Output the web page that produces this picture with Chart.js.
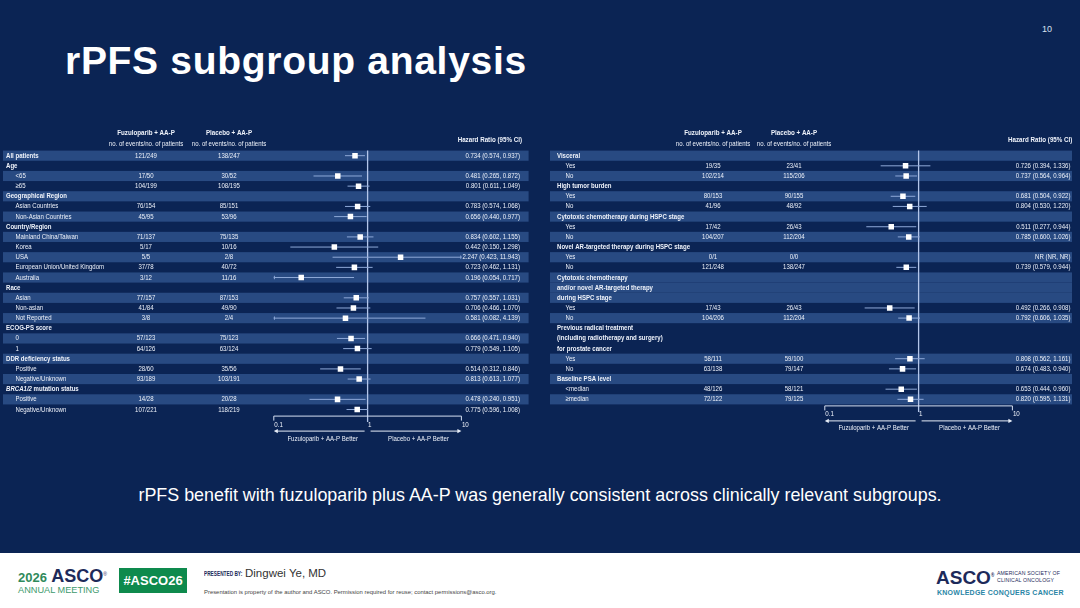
<!DOCTYPE html>
<html>
<head>
<meta charset="utf-8">
<script src="https://cdn.jsdelivr.net/npm/chart.js@4.4.1/dist/chart.umd.min.js"></script>
<style>
  html, body { margin:0; padding:0; }
  body { width:1080px; height:608px; background:#ffffff; position:relative; overflow:hidden; font-family:"Liberation Sans", Arial, sans-serif; }
  #slide { position:absolute; left:0; top:0; width:1080px; height:553px; background:#0b2454; }
  .abs { position:absolute; white-space:nowrap; }
  #title { left:65px; top:41px; font-size:39px; font-weight:bold; color:#ffffff; line-height:39px; letter-spacing:0.7px; }
  #pageno { left:1042px; top:23px; font-size:9px; color:#d8e0f0; line-height:12px; }
  #subtitle { left:0; width:1080px; text-align:center; top:484px; font-size:17.9px; color:#ffffff; line-height:22px; }
  canvas { position:absolute; top:0; }
</style>
</head>
<body>
<div id="slide"></div>
<div id="title" class="abs">rPFS subgroup analysis</div>
<div id="pageno" class="abs">10</div>
<canvas id="leftChart" width="540" height="460" style="left:0;width:540px;height:460px;"></canvas>
<canvas id="rightChart" width="540" height="460" style="left:540px;width:540px;height:460px;"></canvas>
<div id="subtitle" class="abs">rPFS benefit with fuzuloparib plus AA-P was generally consistent across clinically relevant subgroups.</div>

<!-- footer -->
<div class="abs" style="left:18px;top:565px;line-height:18px;"><span style="font-size:13px;color:#2f8a5b;font-weight:bold;">2026</span><span style="font-size:18px;color:#1d2a5a;font-weight:bold;"> ASCO</span><sup style="font-size:5px;color:#1d2a5a;">®</sup></div>
<div class="abs" style="left:18px;top:585px;font-size:9.2px;color:#3d9a6c;line-height:11px;">ANNUAL MEETING</div>
<div class="abs" style="left:119px;top:568px;width:68px;height:25px;background:#0e8a4d;color:#ffffff;font-weight:bold;font-size:13px;line-height:25px;text-align:center;">#ASCO26</div>
<div class="abs" style="left:204px;top:570px;font-size:7px;font-weight:bold;color:#1d2a5a;line-height:8px;transform:scale(0.68,1);transform-origin:0 50%;">PRESENTED BY:</div>
<div class="abs" style="left:245px;top:566px;font-size:11.5px;color:#333333;line-height:14px;">Dingwei Ye, MD</div>
<div class="abs" style="left:204px;top:588px;font-size:5.9px;color:#444444;line-height:8px;">Presentation is property of the author and ASCO. Permission required for reuse; contact permissions@asco.org.</div>
<div class="abs" style="left:936px;top:565px;font-size:19px;font-weight:bold;color:#1d2a5a;line-height:21px;">ASCO<sup style="font-size:4.5px;">®</sup></div>
<div class="abs" style="left:997px;top:570px;font-size:5.2px;color:#1d2a5a;line-height:6.5px;letter-spacing:0.15px;">AMERICAN SOCIETY OF<br>CLINICAL ONCOLOGY</div>
<div class="abs" style="left:937px;top:588px;font-size:7px;font-weight:bold;color:#2a86a6;line-height:9px;letter-spacing:0.25px;">KNOWLEDGE CONQUERS CANCER</div>

<script>
// ---------------- DATA ----------------
const tickValues = [0.1, 1, 10];
const tickLabels = ['0.1', '1', '10'];
const betterLabels = ['Fuzuloparib + AA-P Better', 'Placebo + AA-P Better'];
const colHeaders = ['Fuzuloparib + AA-P', 'Placebo + AA-P'];
const colSubHeader = 'no. of events/no. of patients';
const hrHeader = 'Hazard Ratio (95% CI)';

const leftLabels = ['All patients','Age','<65','≥65','Geographical Region','Asian Countries','Non-Asian Countries','Country/Region','Mainland China/Taiwan','Korea','USA','European Union/United Kingdom','Australia','Race','Asian','Non-asian','Not Reported','ECOG-PS score','0','1','DDR deficiency status','Positive','Negative/Unknown','BRCA1/2 mutation status','Positive','Negative/Unknown'];
const leftKinds  = ['t','h','s','s','h','s','s','h','s','s','s','s','s','h','s','s','s','h','s','s','h','s','s','h','s','s'];
const leftFuz = ['121/249',null,'17/50','104/199',null,'76/154','45/95',null,'71/137','5/17','5/5','37/78','3/12',null,'77/157','41/84','3/8',null,'57/123','64/126',null,'28/60','93/189',null,'14/28','107/221'];
const leftPlc = ['138/247',null,'30/52','108/195',null,'85/151','53/96',null,'75/135','10/16','2/8','40/72','11/16',null,'87/153','49/90','2/4',null,'75/123','63/124',null,'35/56','103/191',null,'20/28','118/219'];
const leftHR  = [0.734,null,0.481,0.801,null,0.783,0.656,null,0.834,0.442,2.247,0.723,0.196,null,0.757,0.706,0.581,null,0.666,0.779,null,0.514,0.813,null,0.478,0.775];
const leftLo  = [0.574,null,0.265,0.611,null,0.574,0.440,null,0.602,0.150,0.423,0.462,0.054,null,0.557,0.466,0.082,null,0.471,0.549,null,0.312,0.613,null,0.240,0.596];
const leftHi  = [0.937,null,0.872,1.049,null,1.068,0.977,null,1.155,1.298,11.943,1.131,0.717,null,1.031,1.070,4.139,null,0.940,1.105,null,0.846,1.077,null,0.951,1.008];

const rightLabels = ['Visceral','Yes','No','High tumor burden','Yes','No','Cytotoxic chemotherapy during HSPC stage','Yes','No','Novel AR-targeted therapy during HSPC stage','Yes','No','Cytotoxic chemotherapy','and/or novel AR-targeted therapy','during HSPC stage','Yes','No','Previous radical treatment','(including radiotherapy and surgery)','for prostate cancer','Yes','No','Baseline PSA level','<median','≥median'];
const rightKinds  = ['h','s','s','h','s','s','h','s','s','h','s','s','h','c','c','s','s','h','c','c','s','s','h','s','s'];
const rightFuz = [null,'19/35','102/214',null,'80/153','41/96',null,'17/42','104/207',null,'0/1','121/248',null,null,null,'17/43','104/206',null,null,null,'58/111','63/138',null,'48/126','72/122'];
const rightPlc = [null,'23/41','115/206',null,'90/155','48/92',null,'26/43','112/204',null,'0/0','138/247',null,null,null,'26/43','112/204',null,null,null,'59/100','79/147',null,'58/121','79/125'];
const rightHR  = [null,0.726,0.737,null,0.681,0.804,null,0.511,0.785,null,null,0.739,null,null,null,0.492,0.792,null,null,null,0.808,0.674,null,0.653,0.820];
const rightLo  = [null,0.394,0.564,null,0.504,0.530,null,0.277,0.600,null,null,0.579,null,null,null,0.266,0.606,null,null,null,0.562,0.483,null,0.444,0.595];
const rightHi  = [null,1.336,0.964,null,0.922,1.220,null,0.944,1.026,null,null,0.944,null,null,null,0.908,1.035,null,null,null,1.161,0.940,null,0.960,1.131];

// ---------------- RENDERING ----------------
const FONT = '"Liberation Sans", Arial, sans-serif';
const NARROW = 0.82;
const TEXT = '#eef2fa';

function txt(ctx, s, x, y, o) {
  o = o || {};
  ctx.save();
  ctx.font = (o.italic ? 'italic ' : '') + (o.bold ? 'bold ' : '') + (o.size || 7.4) + 'px ' + FONT;
  ctx.textAlign = o.align || 'left';
  ctx.textBaseline = 'middle';
  ctx.fillStyle = o.color || TEXT;
  ctx.translate(x, y);
  ctx.scale(NARROW, 1);
  ctx.fillText(s, 0, 0);
  const w = ctx.measureText(s).width * NARROW;
  ctx.restore();
  return w;
}

function fmt(v) { return v.toFixed(3); }

function buildChart(id, d, L) {
  const n = d.labels.length;
  const xmin = tickValues[0], xmax = tickValues[tickValues.length - 1];
  const ciData = [];
  const ptData = [];
  const truncData = [];
  for (let i = 0; i < n; i++) {
    if (d.hr[i] == null) continue;
    ciData.push({x: d.lo[i], y: i}, {x: d.hi[i], y: i}, {x: d.hi[i], y: null});
    ptData.push({x: d.hr[i], y: i});
    if (d.lo[i] < xmin) truncData.push({x: xmin, y: i, dir: -90});
    if (d.hi[i] > xmax) truncData.push({x: xmax, y: i, dir: 90});
  }

  const forestPlugin = {
    id: 'forest_' + id,
    beforeDatasetsDraw(chart) {
      const ctx = chart.ctx;
      const ys = chart.scales.y, xs = chart.scales.x, ca = chart.chartArea;
      // bands
      let g = -1;
      for (let i = 0; i < n; i++) {
        if (d.kinds[i] !== 'c') g++;
        if (g % 2 === 0) {
          const t = ys.getPixelForValue(i - 0.5), b = ys.getPixelForValue(i + 0.5);
          ctx.fillStyle = '#284a82';
          ctx.fillRect(L.bandL, t, L.bandR - L.bandL, b - t);
        }
      }
      // column headers
      txt(ctx, colHeaders[0], L.fuzX, 133.3, {bold: true, align: 'center', size: 7.6});
      txt(ctx, colHeaders[1], L.plcX, 133.3, {bold: true, align: 'center', size: 7.6});
      txt(ctx, colSubHeader, L.fuzX, 144.4, {align: 'center', size: 7.4});
      txt(ctx, colSubHeader, L.plcX, 144.4, {align: 'center', size: 7.4});
      txt(ctx, hrHeader, L.hrR + 2, 139.7, {bold: true, align: 'right', size: 7.6});
      // rows
      for (let i = 0; i < n; i++) {
        const y = ys.getPixelForValue(i);
        const k = d.kinds[i];
        const lab = d.labels[i];
        if (k === 's') {
          txt(ctx, lab, L.subX, y);
        } else {
          if (lab.indexOf('BRCA1/2') === 0) {
            const w = txt(ctx, 'BRCA1/2', L.headX, y, {bold: true, italic: true});
            txt(ctx, lab.slice(7), L.headX + w, y, {bold: true});
          } else {
            txt(ctx, lab, L.headX, y, {bold: true});
          }
        }
        if (d.fuz[i] != null) {
          txt(ctx, d.fuz[i], L.fuzX, y, {align: 'center'});
          txt(ctx, d.plc[i], L.plcX, y, {align: 'center'});
          const s = d.hr[i] == null ? 'NR (NR, NR)' : fmt(d.hr[i]) + ' (' + fmt(d.lo[i]) + ', ' + fmt(d.hi[i]) + ')';
          txt(ctx, s, L.hrR, y, {align: 'right'});
        }
      }
      // reference line at HR = 1
      const x1 = xs.getPixelForValue(1);
      const by = ca.bottom + 1.5;
      ctx.save();
      ctx.strokeStyle = '#b4c6ea';
      ctx.lineWidth = 1.3;
      ctx.beginPath(); ctx.moveTo(x1, ca.top); ctx.lineTo(x1, by + 6); ctx.stroke();
      // axis bracket
      ctx.strokeStyle = '#d6e0f2';
      ctx.lineWidth = 1;
      const xa = xs.getPixelForValue(xmin), xb = xs.getPixelForValue(xmax);
      ctx.beginPath();
      ctx.moveTo(xa, by + 4.5); ctx.lineTo(xa, by); ctx.lineTo(xb, by); ctx.lineTo(xb, by + 4.5);
      ctx.stroke();
      // tick labels
      for (let t = 0; t < tickValues.length; t++) {
        txt(ctx, tickLabels[t], xs.getPixelForValue(tickValues[t]) + 0.5, by + 8.5, {size: 7.6});
      }
      // arrows
      const ay = by + 15;
      ctx.strokeStyle = '#e8eef8'; ctx.fillStyle = '#e8eef8'; ctx.lineWidth = 1;
      ctx.beginPath(); ctx.moveTo(x1 - 3, ay); ctx.lineTo(xa + 3, ay); ctx.stroke();
      ctx.beginPath(); ctx.moveTo(xa, ay); ctx.lineTo(xa + 4, ay - 2.2); ctx.lineTo(xa + 4, ay + 2.2); ctx.closePath(); ctx.fill();
      ctx.beginPath(); ctx.moveTo(x1 + 3, ay); ctx.lineTo(xb - 3, ay); ctx.stroke();
      ctx.beginPath(); ctx.moveTo(xb, ay); ctx.lineTo(xb - 4, ay - 2.2); ctx.lineTo(xb - 4, ay + 2.2); ctx.closePath(); ctx.fill();
      ctx.restore();
      const mL = xs.getPixelForValue(Math.sqrt(xmin * 1)), mR = xs.getPixelForValue(Math.sqrt(xmax * 1));
      txt(ctx, betterLabels[0], mL + 2, by + 22.5, {align: 'center', size: 7.4});
      txt(ctx, betterLabels[1], mR + 4, by + 22.5, {align: 'center', size: 7.4});
    }
  };

  return new Chart(document.getElementById(id), {
    type: 'scatter',
    data: {
      datasets: [
        { type: 'line', data: ciData, borderColor: '#8fa9d8', borderWidth: 1, pointRadius: 0, spanGaps: false, tension: 0, order: 2 },
        { type: 'scatter', data: truncData, pointStyle: 'triangle', pointRadius: 2.2, pointRotation: (c) => c.raw ? c.raw.dir : 0, backgroundColor: '#8fa9d8', borderWidth: 0, order: 1 },
        { type: 'scatter', data: ptData, pointStyle: 'rect', pointRadius: 3.9, backgroundColor: '#ffffff', borderColor: '#ffffff', borderWidth: 0, order: 0 }
      ]
    },
    options: {
      responsive: false,
      animation: false,
      events: [],
      devicePixelRatio: 1,
      layout: { padding: L.pad },
      plugins: { legend: { display: false }, tooltip: { enabled: false } },
      scales: {
        x: { type: 'logarithmic', min: xmin, max: xmax, display: false },
        y: { type: 'linear', min: -0.5, max: n - 0.5, reverse: true, display: false }
      }
    },
    plugins: [forestPlugin]
  });
}

buildChart('leftChart',
  {labels: leftLabels, kinds: leftKinds, fuz: leftFuz, plc: leftPlc, hr: leftHR, lo: leftLo, hi: leftHi},
  {headX: 6, subX: 15.5, fuzX: 146, plcX: 229, hrR: 520, bandL: 3, bandR: 528.6,
   pad: {left: 273.8, right: 78.6, top: 150.6, bottom: 45.4}});

buildChart('rightChart',
  {labels: rightLabels, kinds: rightKinds, fuz: rightFuz, plc: rightPlc, hr: rightHR, lo: rightLo, hi: rightHi},
  {headX: 17, subX: 25.5, fuzX: 173, plcX: 254, hrR: 530.4, bandL: 10, bandR: 532,
   pad: {left: 284.8, right: 67.6, top: 150.6, bottom: 55.6}});
</script>
</body>
</html>
